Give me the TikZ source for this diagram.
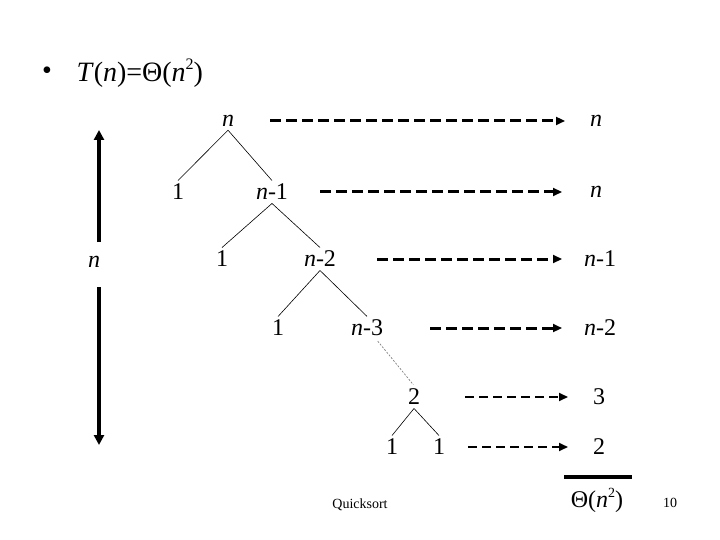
\documentclass[tikz,border=0pt]{standalone}
\usepackage{fontspec}
\setmainfont{Liberation Serif}
\usetikzlibrary{arrows.meta, positioning, calc}

\newcommand{\sqr}[1]{\raisebox{0.42em}{\fontsize{#1}{#1}\selectfont 2}}

\begin{document}
\begin{tikzpicture}
            [x=1pt, y=-1pt, >={Triangle[length=9pt,width=8pt]},
            every node/.style={font=\fontsize{24}{28}\selectfont},
            treeline/.style={-, line width=0.6pt},
            faint/.style={-, gray, line width=0.7pt, dash pattern=on 2pt off 1.5pt},
            level/.style={->, line width=3pt, dash pattern=on 11pt off 5pt},
            smalllevel/.style={->, line width=2pt, dash pattern=on 9pt off 5pt},
            height/.style={-{Triangle[length=10pt,width=10pt]}, line width=4pt},
            small/.style={font=\fontsize{14}{16}\selectfont}]

            \useasboundingbox (0,0) rectangle (720,540);

            \node (bullet) [font=\fontsize{28}{32}\selectfont] at (47,73) {•};
            \node (title) [anchor=west, font=\fontsize{28}{32}\selectfont] at (73,73) {\textit{T}(\textit{n})=Θ(\textit{n}\sqr{16})};

            % recursion tree
            \node (n0) at (228,121) {\textit{n}};
            \node (a1) at (178,192) {1};
            \node (n1) at (272,192) {\textit{n}-1};
            \node (a2) at (222,259) {1};
            \node (n2) at (320,259) {\textit{n}-2};
            \node (a3) at (278,328) {1};
            \node (n3) at (367,328) {\textit{n}-3};
            \node (two) at (414,397) {2};
            \node (b1) at (392,447) {1};
            \node (b2) at (439,447) {1};

            % cost per level
            \node (r0) at (596,121) {\textit{n}};
            \node (r1) at (596,192) {\textit{n}};
            \node (r2) at (600,259) {\textit{n}-1};
            \node (r3) at (600,328) {\textit{n}-2};
            \node (r4) at (599,397) {3};
            \node (r5) at (599,447) {2};
            \node (total) at (597,500) {Θ(\textit{n}\sqr{14})};
            \coordinate (barl) at (564,477);
            \coordinate (barr) at (632,477);

            % depth
            \node (hn) at (94,262) {\textit{n}};
            \coordinate (htop) at (99,130);
            \coordinate (hbot) at (99,445);

            \node (qs) [small] at (360,505) {Quicksort};
            \node (page) [small] at (670,503) {10};

            \draw[treeline] (n0.south) -- (a1.north);
            \draw[treeline] (n0.south) -- (n1.north);
            \draw[treeline] (n1.south) -- (a2.north);
            \draw[treeline] (n1.south) -- (n2.north);
            \draw[treeline] (n2.south) -- (a3.north);
            \draw[treeline] (n2.south) -- (n3.north);
            \draw[faint, shorten <=2pt, shorten >=1pt] (n3) -- (two.north);
            \draw[treeline] (two.south) -- (b1.north);
            \draw[treeline] (two.south) -- (b2.north);

            \draw[level, shorten <=42pt, shorten >=31pt] (n0.center) -- (r0.center);
            \draw[level, shorten <=48pt, shorten >=34pt] (n1.center) -- (r1.center);
            \draw[level, shorten <=57pt, shorten >=38pt] (n2.center) -- (r2.center);
            \draw[level, shorten <=63pt, shorten >=38pt] (n3.center) -- (r3.center);
            \draw[smalllevel, shorten <=51pt, shorten >=31pt] (two.center) -- (r4.center);
            \draw[smalllevel, shorten <=29pt, shorten >=31pt] (b2.center) -- (r5.center);

            \draw[line width=4pt] (barl) -- (barr);

            \draw[height, shorten <=20pt] (htop |- hn) -- (htop);
            \draw[height, shorten <=25pt] (hbot |- hn) -- (hbot);

        \end{tikzpicture}
\end{document}
